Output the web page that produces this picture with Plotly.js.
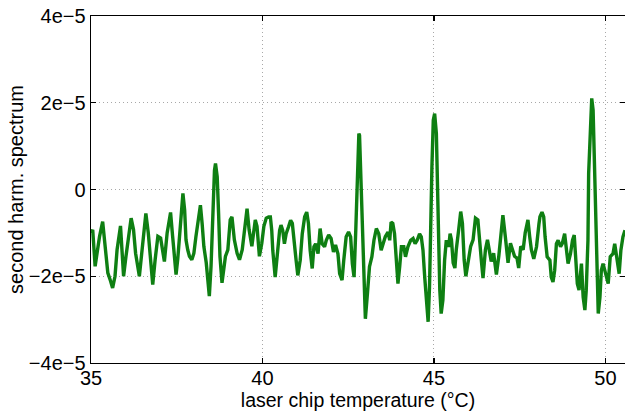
<!DOCTYPE html>
<html>
<head>
<meta charset="utf-8">
<script src="https://cdn.plot.ly/plotly-3.0.1.min.js"></script>
<style>html,body{margin:0;padding:0;background:#fff;}#chart{width:625px;height:411px;}</style>
</head>
<body>
<div id="chart"></div>
<script>
// laser chip temperature (°C)
const temperature = [
35.00,35.05,35.12,35.18,35.25,35.34,35.41,35.49,35.57,35.63,35.70,35.76,35.86,35.90,35.95,36.02,36.09,36.17,36.24,36.30,
36.41,36.48,36.54,36.60,36.67,36.73,36.80,36.87,36.95,37.03,37.07,37.14,37.22,37.32,37.38,37.48,37.53,37.61,37.68,37.73,
37.77,37.82,37.87,37.94,38.00,38.06,38.13,38.19,38.24,38.29,38.36,38.41,38.45,38.50,38.55,38.60,38.63,38.68,38.72,38.76,
38.82,38.87,38.92,38.99,39.06,39.11,39.18,39.26,39.33,39.41,39.48,39.55,39.61,39.69,39.79,39.84,39.91,39.98,40.04,40.11,
40.18,40.23,40.27,40.30,40.37,40.43,40.50,40.54,40.59,40.64,40.69,40.76,40.82,40.87,40.91,40.98,41.03,41.10,41.16,41.23,
41.29,41.34,41.39,41.45,41.50,41.55,41.62,41.68,41.74,41.81,41.86,41.93,42.00,42.07,42.13,42.20,42.25,42.32,42.37,42.44,
42.51,42.57,42.62,42.67,42.72,42.75,42.78,42.81,42.83,42.86,42.88,42.91,42.96,43.00,43.06,43.12,43.19,43.25,43.32,43.39,
43.46,43.52,43.58,43.66,43.71,43.75,43.80,43.85,43.90,43.95,44.00,44.05,44.12,44.17,44.24,44.32,44.39,44.45,44.51,44.58,
44.63,44.68,44.73,44.78,44.83,44.87,44.90,44.94,44.98,45.02,45.07,45.10,45.14,45.17,45.21,45.26,45.31,45.36,45.43,45.47,
45.51,45.56,45.61,45.65,45.72,45.78,45.83,45.88,45.93,45.99,46.07,46.14,46.21,46.28,46.33,46.38,46.43,46.50,46.56,46.61,
46.67,46.74,46.82,46.89,46.95,47.01,47.08,47.16,47.23,47.29,47.35,47.42,47.47,47.53,47.60,47.66,47.74,47.79,47.84,47.91,
47.99,48.06,48.09,48.15,48.20,48.24,48.30,48.38,48.42,48.47,48.52,48.57,48.62,48.69,48.74,48.81,48.86,48.91,48.98,49.04,
49.09,49.14,49.18,49.23,49.30,49.35,49.40,49.44,49.49,49.51,49.56,49.60,49.64,49.67,49.71,49.76,49.79,49.84,49.88,49.93,
50.01,50.08,50.14,50.22,50.27,50.34,50.40,50.45,50.51,50.57
];
// second harmonic spectrum, in units of 1e-5
const spectrumE5 = [
-1.00,-0.93,-1.77,-1.39,-1.08,-0.74,-1.39,-1.92,-2.11,-2.27,-2.00,-1.39,-0.84,-1.39,-2.00,-1.54,-1.08,-0.66,-0.93,-1.47,
-2.00,-1.39,-0.93,-0.55,-1.00,-1.62,-2.19,-1.62,-1.08,-1.12,-1.31,-1.66,-1.00,-0.53,-1.08,-1.96,-1.60,-0.78,-0.09,-0.47,
-1.16,-1.39,-1.54,-1.62,-1.47,-1.08,-0.70,-0.36,-0.78,-1.31,-1.69,-2.08,-2.46,-1.77,-0.32,0.44,0.60,0.29,-0.55,-1.54,
-2.15,-1.85,-1.54,-1.39,-0.70,-0.63,-1.16,-1.47,-1.62,-1.39,-0.93,-0.44,-0.93,-1.31,-0.70,-0.85,-1.54,-1.24,-0.85,-0.66,
-0.63,-0.63,-0.94,-1.40,-2.02,-1.48,-0.94,-0.82,-0.94,-1.25,-1.02,-0.86,-0.71,-0.78,-1.17,-1.63,-1.98,-1.63,-1.02,-0.63,
-0.52,-0.78,-1.40,-1.82,-1.32,-1.25,-1.48,-0.90,-1.25,-1.32,-1.17,-1.05,-1.13,-1.44,-1.28,-1.48,-1.94,-2.09,-1.63,-1.09,
-0.98,-1.09,-1.71,-2.02,-0.94,0.06,0.83,1.29,1.25,0.52,-0.09,-1.17,-2.25,-2.98,-2.40,-1.78,-1.55,-1.17,-0.90,-1.02,
-1.40,-1.25,-1.09,-0.98,-1.17,-0.75,-0.78,-1.02,-1.63,-2.17,-1.78,-1.32,-1.32,-1.55,-1.32,-1.17,-1.13,-1.25,-1.17,-1.02,
-1.09,-1.40,-2.02,-2.48,-3.05,-2.25,-0.86,0.52,1.60,1.75,1.29,0.14,-1.17,-2.32,-2.86,-2.55,-1.63,-1.17,-1.32,-1.02,
-1.16,-1.69,-1.81,-1.39,-0.93,-0.51,-0.78,-1.62,-2.00,-1.69,-1.31,-1.16,-0.66,-0.70,-1.08,-1.62,-2.04,-1.39,-1.16,-1.39,
-1.66,-1.47,-1.96,-1.54,-1.00,-0.59,-1.08,-1.69,-1.24,-1.39,-1.54,-1.58,-1.81,-1.31,-1.39,-1.00,-0.70,-1.08,-1.39,-1.60,
-1.32,-0.80,-0.63,-0.52,-0.63,-1.09,-1.55,-1.63,-2.02,-2.13,-1.86,-1.25,-1.17,-1.32,-1.25,-1.02,-1.40,-1.71,-1.48,-1.17,
-1.05,-1.71,-2.17,-2.32,-1.71,-2.48,-2.78,-2.32,-1.17,0.37,1.68,2.10,1.83,0.75,-0.63,-2.02,-2.86,-2.48,-1.86,-1.71,
-1.94,-2.17,-1.55,-1.48,-1.25,-1.63,-1.94,-1.40,-1.09,-0.94
];
const xTickVals = [35, 40, 45, 50];
const xTickText = ["35", "40", "45", "50"];
const yTickVals = [-4e-5, -2e-5, 0, 2e-5, 4e-5];
const yTickText = ["\u22124e\u22125", "\u22122e\u22125", "0", "2e\u22125", "4e\u22125"];
const UNIT = 1e-5;

const trace = {
  x: temperature,
  y: spectrumE5.map(v => v * UNIT),
  type: 'scatter',
  mode: 'lines',
  line: {color: '#0e7f12', width: 3.4},
  hoverinfo: 'skip'
};

const fontFam = 'Liberation Sans, Arial, Helvetica, sans-serif';
const axisCommon = {
  showline: true, linecolor: '#000', linewidth: 1.4, mirror: 'allticks',
  ticks: 'inside', ticklen: 5, tickwidth: 1.2, tickcolor: '#000',
  showgrid: true, gridcolor: '#a8a8a8', griddash: '1px,3px', gridwidth: 1,
  zeroline: false, tickfont: {family: fontFam, size: 20, color: '#000'},
  tickmode: 'array'
};

const layout = {
  width: 625, height: 411,
  margin: {l: 91, r: 0, t: 16, b: 48, pad: 0},
  paper_bgcolor: '#fff', plot_bgcolor: '#fff',
  showlegend: false,
  xaxis: Object.assign({}, axisCommon, {
    range: [35, 50.57], tickvals: xTickVals, ticktext: xTickText,
    ticklabelstandoff: -3,
    title: {text: 'laser chip temperature (\u00B0C)', font: {family: fontFam, size: 19.5, color: '#000'}, standoff: 0}
  }),
  yaxis: Object.assign({}, axisCommon, {
    range: [-4e-5, 4e-5], tickvals: yTickVals, ticktext: yTickText,
    title: {text: 'second harm. spectrum', font: {family: fontFam, size: 20, color: '#000'}, standoff: 0}
  })
};

Plotly.newPlot('chart', [trace], layout, {displayModeBar: false, staticPlot: true});
</script>
</body>
</html>
